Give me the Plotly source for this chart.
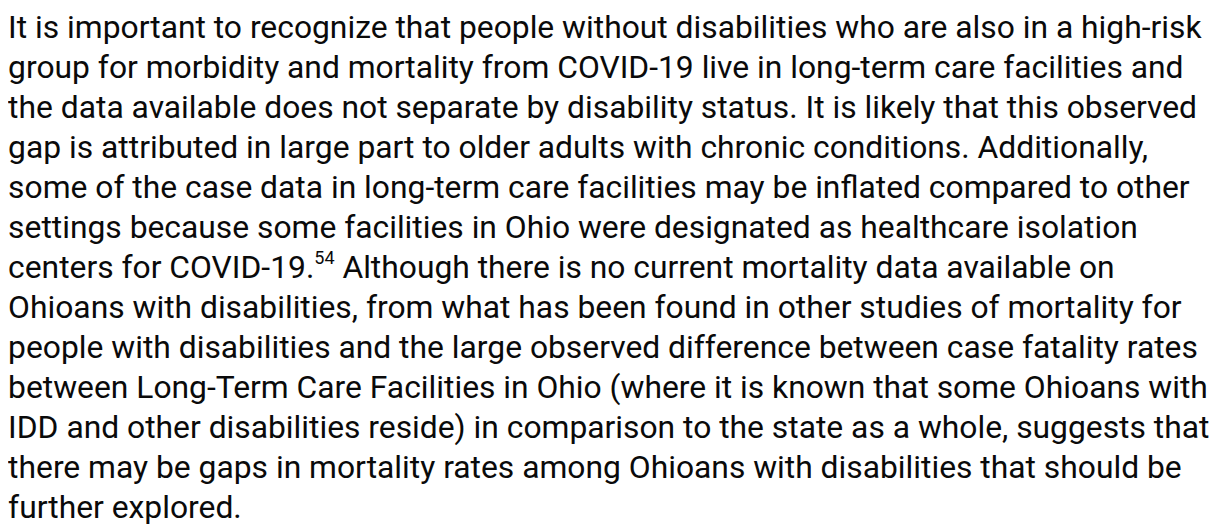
import plotly.graph_objects as go

# paragraph lines as they wrap in the original
lines = [
    "It is important to recognize that people without disabilities who are also in a high-risk",
    "group for morbidity and mortality from COVID-19 live in long-term care facilities and",
    "the data available does not separate by disability status. It is likely that this observed",
    "gap is attributed in large part to older adults with chronic conditions. Additionally,",
    "some of the case data in long-term care facilities may be inflated compared to other",
    "settings because some facilities in Ohio were designated as healthcare isolation",
    "centers for COVID-19.<sup><span style='font-size:18px'>54</span></sup> Although there is no current mortality data available on",
    "Ohioans with disabilities, from what has been found in other studies of mortality for",
    "people with disabilities and the large observed difference between case fatality rates",
    "between Long-Term Care Facilities in Ohio (where it is known that some Ohioans with",
    "IDD and other disabilities reside) in comparison to the state as a whole, suggests that",
    "there may be gaps in mortality rates among Ohioans with disabilities that should be",
    "further explored.",
]
line_no = list(range(len(lines)))

fig = go.Figure()
fig.add_trace(
    go.Scatter(
        x=[0] * len(lines),
        y=line_no,
        text=lines,
        mode="text",
        textposition="middle right",
        textfont=dict(family="Roboto", size=31.8, color="#0a0a0a"),
        hoverinfo="skip",
        cliponaxis=False,
    )
)
fig.update_layout(
    width=1220,
    height=525,
    margin=dict(l=0, r=0, t=0, b=0),
    paper_bgcolor="white",
    plot_bgcolor="white",
    xaxis=dict(visible=False, range=[-0.0001, 1]),
    # one line every ~40px
    yaxis=dict(visible=False, range=[12.58, -0.545]),
    showlegend=False,
)
fig.write_html("out.html")
